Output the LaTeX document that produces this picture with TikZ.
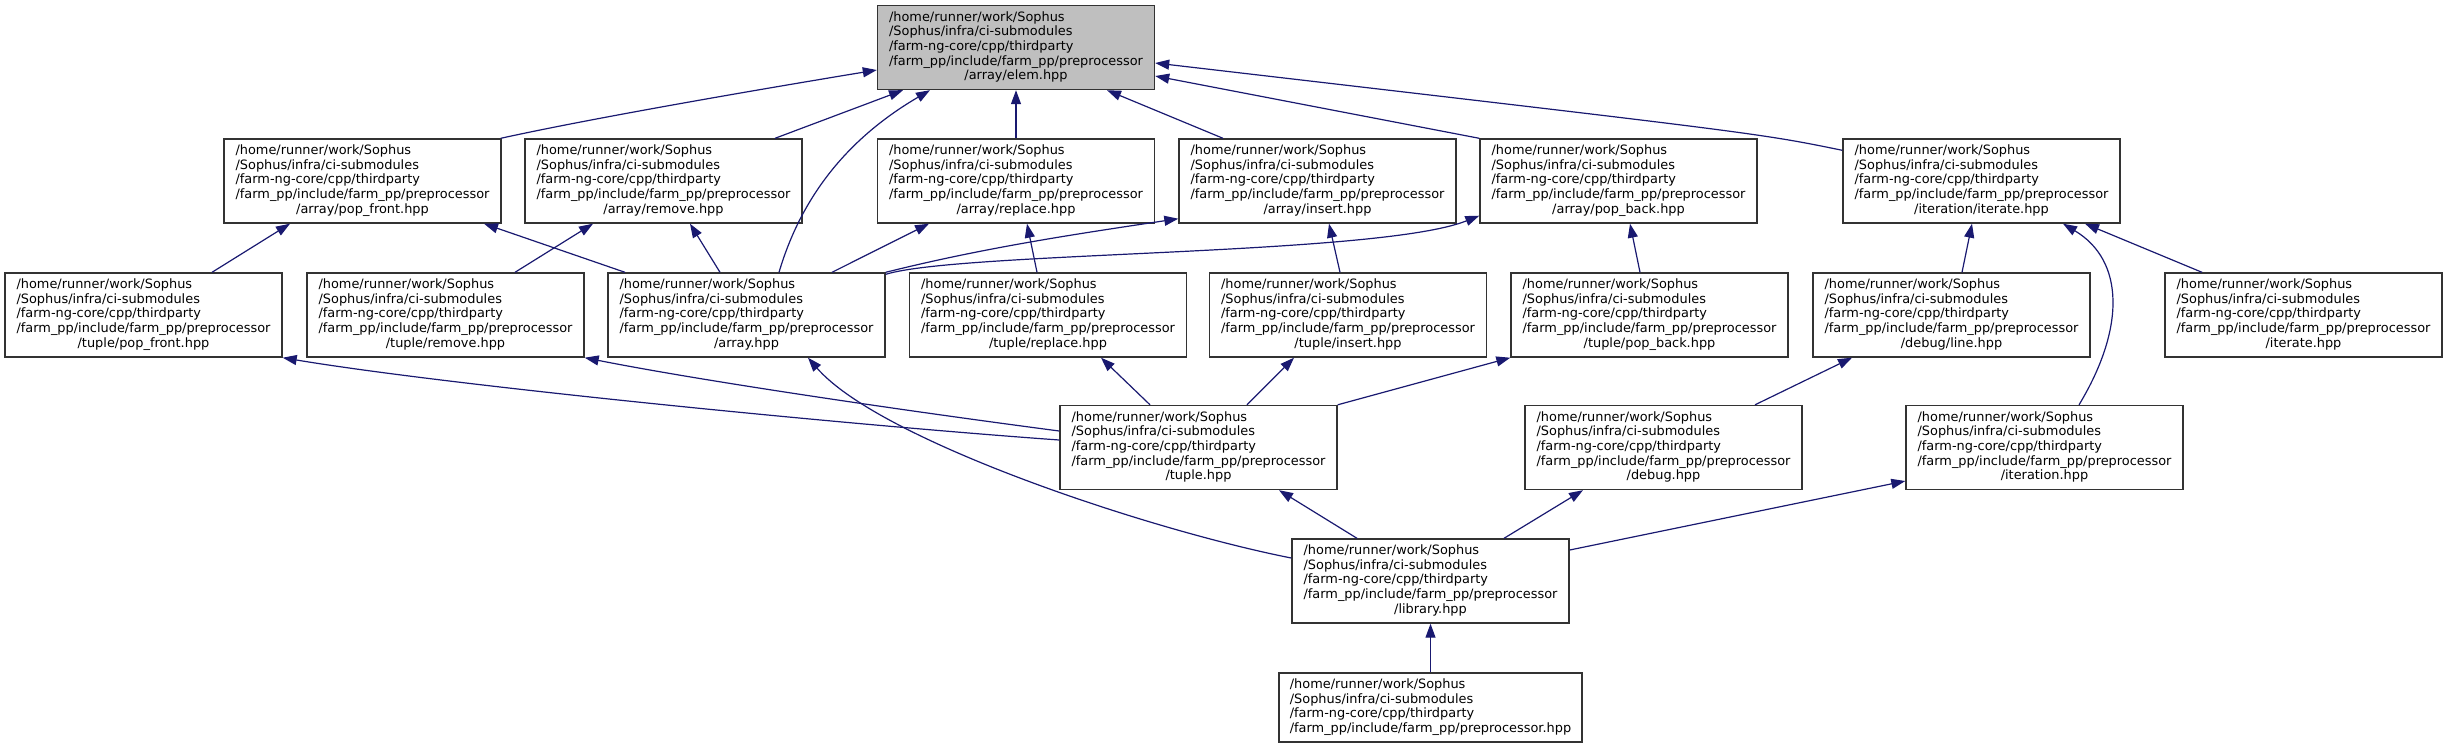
\documentclass[tikz,border=0pt]{standalone}
\usepackage{fontspec}
\setmainfont{DejaVu Sans}
\usetikzlibrary{arrows.meta}
\definecolor{midnight}{HTML}{191970}
\definecolor{boxline}{HTML}{333333}
\definecolor{rootfill}{HTML}{BFBFBF}
\newcommand{\fpath}[1]{\begin{tabular}{@{}l@{}}/home/runner/work/Sophus\\/Sophus/infra/ci-submodules\\/farm-ng-core/cpp/thirdparty\\/farm\_pp/include/farm\_pp/preprocessor\\\multicolumn{1}{@{}c@{}}{#1}\end{tabular}}
\begin{document}
\begin{tikzpicture}[x=1pt,y=-1pt,
  filebox/.style={draw=boxline, line width=1.4pt, fill=white, minimum width=277pt, minimum height=84pt, inner sep=0pt, font=\fontsize{12.9}{14.67}\selectfont},
  dep/.style={draw=midnight, line width=1.2pt, -{Triangle[length=14pt,width=10pt]}}]
\useasboundingbox (0,0) rectangle (2448,748);
% row 1
\node[filebox, fill=rootfill] (elem) at (1016,47.5) {\fpath{/array/elem.hpp}};
% row 2
\node[filebox] (apf) at (362.5,181) {\fpath{/array/pop\_front.hpp}};
\node[filebox] (arem) at (663.5,181) {\fpath{/array/remove.hpp}};
\node[filebox] (arep) at (1016,181) {\fpath{/array/replace.hpp}};
\node[filebox] (ains) at (1317.5,181) {\fpath{/array/insert.hpp}};
\node[filebox] (apb) at (1618.5,181) {\fpath{/array/pop\_back.hpp}};
\node[filebox] (iter) at (1981.5,181) {\fpath{/iteration/iterate.hpp}};
% row 3
\node[filebox] (tpf) at (143.5,315) {\fpath{/tuple/pop\_front.hpp}};
\node[filebox] (trem) at (445.5,315) {\fpath{/tuple/remove.hpp}};
\node[filebox] (arr) at (746.5,315) {\fpath{/array.hpp}};
\node[filebox] (trep) at (1048,315) {\fpath{/tuple/replace.hpp}};
\node[filebox] (tins) at (1348,315) {\fpath{/tuple/insert.hpp}};
\node[filebox] (tpb) at (1649.5,315) {\fpath{/tuple/pop\_back.hpp}};
\node[filebox] (dline) at (1951.5,315) {\fpath{/debug/line.hpp}};
\node[filebox] (itr) at (2303.5,315) {\fpath{/iterate.hpp}};
% row 4
\node[filebox] (tup) at (1198.5,447.5) {\fpath{/tuple.hpp}};
\node[filebox] (dbg) at (1663.5,447.5) {\fpath{/debug.hpp}};
\node[filebox] (itn) at (2044.5,447.5) {\fpath{/iteration.hpp}};
% row 5
\node[filebox] (lib) at (1430.5,581) {\fpath{/library.hpp}};
% row 6
\node[filebox, minimum width=303pt, minimum height=69pt] (pp) at (1430.5,707.5) {\begin{tabular}{@{}l@{}}/home/runner/work/Sophus\\/Sophus/infra/ci-submodules\\/farm-ng-core/cpp/thirdparty\\/farm\_pp/include/farm\_pp/preprocessor.hpp\end{tabular}};
% edges
\draw[dep] ([xshift=-1pt]apf.north east) .. controls +(100,-22) and +(-97,16) .. ([yshift=-22.5pt]elem.west);
\draw[dep] ([xshift=111.5pt]arem.north) -- ([xshift=-113pt]elem.south);
\draw[dep] ([xshift=32.5pt]arr.north) .. controls +(26,-88) and +(-70,41) .. ([xshift=-86pt]elem.south);
\draw[dep] (arep.north) -- (elem.south);
\draw[dep] ([xshift=-94.5pt]ains.north) -- ([xshift=91pt]elem.south);
\draw[dep] (apb.north west) -- ([yshift=-28.5pt]elem.east);
\draw[dep] ([yshift=-12pt]iter.north west) .. controls +(-83,-17) .. ([yshift=-15.5pt]elem.east);
\draw[dep] ([xshift=68.5pt]tpf.north) -- ([xshift=-72.5pt]apf.south);
\draw[dep] ([xshift=-121.5pt]arr.north) -- ([xshift=121.5pt]apf.south);
\draw[dep] ([xshift=69.5pt]trem.north) -- ([xshift=-70.5pt]arem.south);
\draw[dep] ([xshift=-26.5pt]arr.north) -- ([xshift=26.5pt]arem.south);
\draw[dep] ([xshift=85.5pt]arr.north) -- ([xshift=-87pt]arep.south);
\draw[dep] (arr.north east) .. controls +(100,-25) and +(-100,15) .. ([yshift=5pt]ains.south west);
\draw[dep] ([yshift=-2pt]arr.north east) .. controls +(75,-23) and +(-100,40) .. ([yshift=8pt]apb.south west);
\draw[dep] ([xshift=-11pt]trep.north) -- ([xshift=11pt]arep.south);
\draw[dep] ([xshift=-8pt]tins.north) -- ([xshift=11.5pt]ains.south);
\draw[dep] ([xshift=-9.5pt]tpb.north) -- ([xshift=11.5pt]apb.south);
\draw[dep] ([xshift=10.5pt]dline.north) -- ([xshift=-9.5pt]iter.south);
\draw[dep] ([xshift=34.5pt]itn.north) .. controls +(46,-76) and +(62,37) .. ([xshift=81.5pt]iter.south);
\draw[dep] ([xshift=-101.5pt]itr.north) -- ([xshift=103.5pt]iter.south);
\draw[dep] ([yshift=7.5pt]tup.west) .. controls +(-210,-15) and +(168,28) .. (tpf.south east);
\draw[dep] ([yshift=16.5pt]tup.west) .. controls +(-160,-21) and +(116,23) .. (trem.south east);
\draw[dep] ([yshift=23pt]lib.west) .. controls +(-142,-28) and +(72,83) .. ([xshift=61.5pt]arr.south);
\draw[dep] ([xshift=-48.5pt]tup.north) -- ([xshift=53pt]trep.south);
\draw[dep] ([xshift=48.5pt]tup.north) -- ([xshift=-54pt]tins.south);
\draw[dep] (tup.north east) -- (tpb.south west);
\draw[dep] ([xshift=91.5pt]dbg.north) -- ([xshift=-99.5pt]dline.south);
\draw[dep] ([xshift=-73.5pt]lib.north) -- ([xshift=80.5pt]tup.south);
\draw[dep] ([xshift=73.5pt]lib.north) -- ([xshift=-80.5pt]dbg.south);
\draw[dep] ([yshift=31pt]lib.east) -- ([yshift=-33.5pt]itn.west);
\draw[dep] (pp.north) -- (lib.south);
\end{tikzpicture}
\end{document}
